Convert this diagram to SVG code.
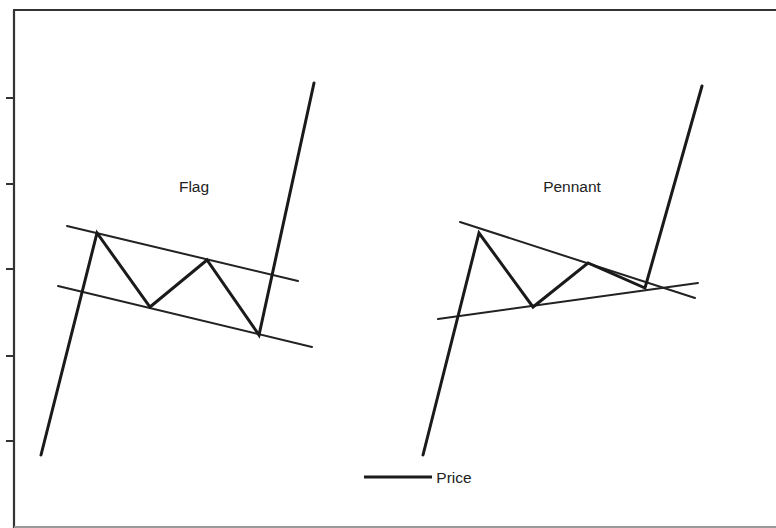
<svg xmlns="http://www.w3.org/2000/svg" width="776" height="528" viewBox="0 0 776 528">
<style>
.frame{stroke:#333;stroke-width:2.2;fill:none}
.tick{stroke:#333;stroke-width:2}
.price{stroke:#1a1a1a;stroke-width:3;fill:none;stroke-linejoin:miter;stroke-linecap:round}
.trend{stroke:#222;stroke-width:2;fill:none;stroke-linecap:round}
.lbl{font-family:"Liberation Sans",Arial,sans-serif;font-size:15.5px;fill:#222;text-anchor:middle}
</style>
<rect width="776" height="528" fill="#ffffff"/>
<g id="frame">
<line class="frame" x1="13" y1="10" x2="776" y2="10"/>
<line class="frame" x1="14" y1="10" x2="14" y2="528"/>
<line x1="14" y1="527" x2="776" y2="527" stroke="#999" stroke-width="2"/>
<line class="tick" x1="6" y1="98" x2="14" y2="98"/>
<line class="tick" x1="6" y1="184" x2="14" y2="184"/>
<line class="tick" x1="6" y1="269" x2="14" y2="269"/>
<line class="tick" x1="6" y1="356" x2="14" y2="356"/>
<line class="tick" x1="6" y1="441" x2="14" y2="441"/>
</g>
<g id="connectors">
<g id="flag">
<line class="trend" x1="67" y1="226" x2="298" y2="281"/>
<line class="trend" x1="58" y1="286" x2="312" y2="347"/>
<polyline class="price" points="41,455 97,233 150,307 207,260 259,335 314,83"/>
</g>
<g id="pennant">
<line class="trend" x1="460" y1="222" x2="695" y2="298"/>
<line class="trend" x1="438" y1="319" x2="698" y2="283"/>
<polyline class="price" points="423,455 479,233 533,307 588,263 645,288 702,86"/>
</g>
<g id="legend">
<line x1="364" y1="477" x2="432" y2="477" stroke="#1a1a1a" stroke-width="3"/>
</g>
</g>
<g id="label-flag"><text class="lbl" x="194" y="192">Flag</text></g>
<g id="label-pennant"><text class="lbl" x="572" y="192">Pennant</text></g>
<g id="label-price"><text class="lbl" x="454" y="483">Price</text></g>
</svg>
